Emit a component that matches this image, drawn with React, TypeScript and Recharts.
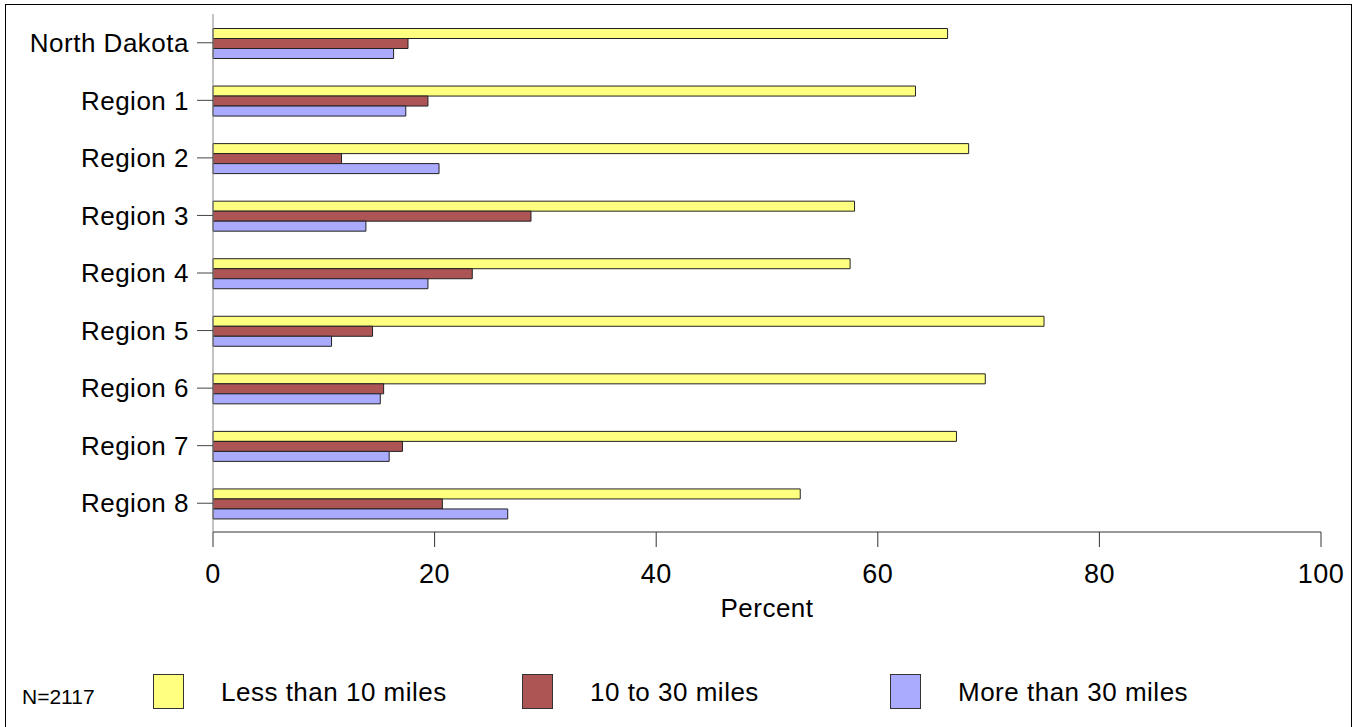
import { Bar, BarChart, XAxis, YAxis } from "recharts";

const REGIONS = [
  "North Dakota",
  "Region 1",
  "Region 2",
  "Region 3",
  "Region 4",
  "Region 5",
  "Region 6",
  "Region 7",
  "Region 8",
];
const LESS_THAN_10 = [66.3, 63.4, 68.2, 57.9, 57.5, 75.0, 69.7, 67.1, 53.0];
const FROM_10_TO_30 = [17.6, 19.4, 11.6, 28.7, 23.4, 14.4, 15.4, 17.1, 20.7];
const MORE_THAN_30 = [16.3, 17.4, 20.4, 13.8, 19.4, 10.7, 15.1, 15.9, 26.6];
const X_TICKS = [0, 20, 40, 60, 80, 100];

const SERIES = [
  { key: "less", name: "Less than 10 miles", color: "#FFFF80", values: LESS_THAN_10 },
  { key: "mid", name: "10 to 30 miles", color: "#AD5555", values: FROM_10_TO_30 },
  { key: "more", name: "More than 30 miles", color: "#AAAAFF", values: MORE_THAN_30 },
];

const FONT = '"Liberation Sans", Arial, sans-serif';

// legend slots (left of swatch, left of text)
const LEGEND_POS = [
  { box: 153, text: 221 },
  { box: 522, text: 590 },
  { box: 890, text: 958 },
];

export default function App() {
  const data = REGIONS.map((region, i) => {
    const row: Record<string, string | number> = { region };
    SERIES.forEach((s) => {
      row[s.key] = s.values[i];
    });
    return row;
  });

  return (
    <div style={{ position: "absolute", left: 0, top: 0, width: 1360, height: 727, overflow: "hidden", background: "#fff", fontFamily: FONT }}>
      <div
        style={{
          position: "absolute",
          left: 5,
          top: 4,
          width: 1347,
          height: 760,
          border: "1px solid #000",
          boxSizing: "border-box",
        }}
      />
      <div style={{ position: "absolute", left: 0, top: 0 }}>
        <BarChart
          width={1360}
          height={727}
          data={data}
          layout="vertical"
          margin={{ top: 14, right: 39, left: 13, bottom: 135 }}
          barCategoryGap={14.5}
          barGap={0}
        >
          <XAxis
            type="number"
            domain={[0, 100]}
            ticks={X_TICKS}
            interval={0}
            height={60}
            tickSize={15}
            tickMargin={17}
            axisLine={{ stroke: "#333" }}
            tickLine={{ stroke: "#333" }}
            tick={{ fill: "#000", fontSize: 27, fontFamily: FONT, letterSpacing: 0.5 }}
            label={{
              value: "Percent",
              position: "bottom",
              offset: 7,
              fill: "#000",
              fontSize: 26,
              fontFamily: FONT,
              letterSpacing: 0.5,
            }}
          />
          <YAxis
            type="category"
            dataKey="region"
            width={200}
            tickSize={16}
            tickMargin={8}
            interval={0}
            axisLine={{ stroke: "#888" }}
            tickLine={{ stroke: "#444" }}
            tick={{ fill: "#000", fontSize: 26, fontFamily: FONT, letterSpacing: 0.5 }}
          />
          {SERIES.map((s) => (
            <Bar
              key={s.key}
              dataKey={s.key}
              name={s.name}
              fill={s.color}
              stroke="#222"
              strokeWidth={1}
              isAnimationActive={false}
            />
          ))}
        </BarChart>
      </div>
      <div
        style={{
          position: "absolute",
          left: 22,
          top: 684,
          fontSize: 21,
          lineHeight: "26px",
          color: "#000",
        }}
      >
        N=2117
      </div>
      {SERIES.map((s, i) => (
        <div key={s.key}>
          <div
            style={{
              position: "absolute",
              left: LEGEND_POS[i].box,
              top: 674,
              width: 31,
              height: 35,
              background: s.color,
              border: "1px solid #333",
              boxSizing: "border-box",
            }}
          />
          <div
            style={{
              position: "absolute",
              left: LEGEND_POS[i].text,
              top: 677,
              fontSize: 26,
              lineHeight: "30px",
              letterSpacing: 0.5,
              color: "#000",
              whiteSpace: "nowrap",
            }}
          >
            {s.name}
          </div>
        </div>
      ))}
    </div>
  );
}
